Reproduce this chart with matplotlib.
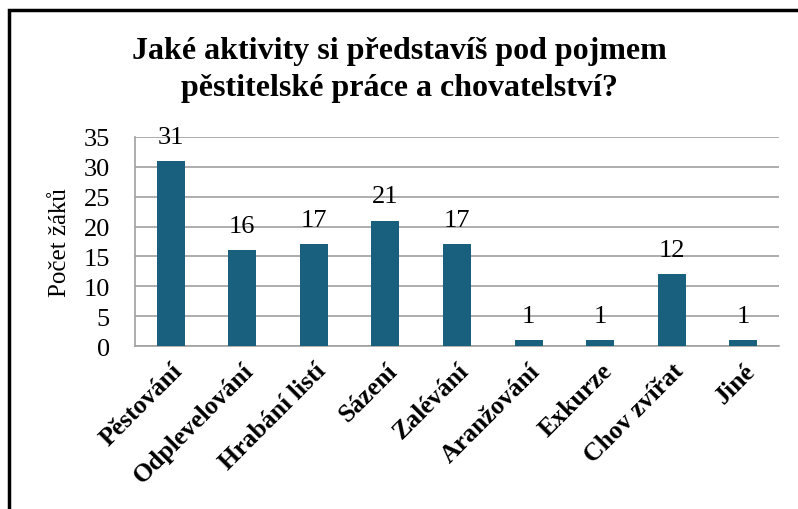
import matplotlib.pyplot as plt
from matplotlib.patches import Rectangle

categories = ['Pěstování', 'Odplevelování', 'Hrabání listí', 'Sázení', 'Zalévání',
              'Aranžování', 'Exkurze', 'Chov zvířat', 'Jiné']
values = [31, 16, 17, 21, 17, 1, 1, 12, 1]
yticks = [0, 5, 10, 15, 20, 25, 30, 35]

plt.rcParams['font.family'] = ['Liberation Serif', 'DejaVu Serif']

fig = plt.figure(figsize=(7.98, 5.10), dpi=100)
ax = fig.add_axes([135/798, 1-347/510, (779-135)/798, (347-138)/510])

x = range(len(categories))
ax.bar(x, values, width=0.39, color='#19607F', zorder=3)
for i, v in enumerate(values):
    ax.text(i, v + 2.2, str(v), ha='center', va='bottom', fontsize=19)

ax.set_xlim(-0.5, len(categories) - 0.5)
ax.set_ylim(0, 35)
ax.set_yticks(yticks)
ax.set_yticklabels([str(t) for t in yticks], fontsize=19)
ax.set_xticks(list(x))
ax.set_xticklabels(categories, rotation=45, ha='right', rotation_mode='anchor',
                   fontsize=18.5, fontweight='bold')
ax.tick_params(axis='y', length=0, pad=18)
ax.tick_params(axis='x', length=0, pad=9)
ax.grid(axis='y', color='#A0A0A0', linewidth=1.2, zorder=0)
for s in ['top', 'right']:
    ax.spines[s].set_visible(False)
ax.spines['left'].set_color('#A0A0A0')
ax.spines['bottom'].set_color('#A0A0A0')
ax.spines['left'].set_linewidth(1.2)
ax.spines['bottom'].set_linewidth(1.2)
ax.set_ylabel('Počet žáků', fontsize=18, labelpad=9)

fig.text(0.5, 1-70/510, 'Jaké aktivity si představíš pod pojmem\npěstitelské práce a chovatelství?',
         ha='center', va='center', fontsize=23, fontweight='bold', linespacing=1.35)

# outer border (only left and top visible in the crop)
fig.patches.append(Rectangle((9/798, -0.2), 1.5, 1.2 - 11/510, transform=fig.transFigure,
                             fill=False, edgecolor='black', linewidth=2.5))

fig.savefig('out.png', dpi=100)
